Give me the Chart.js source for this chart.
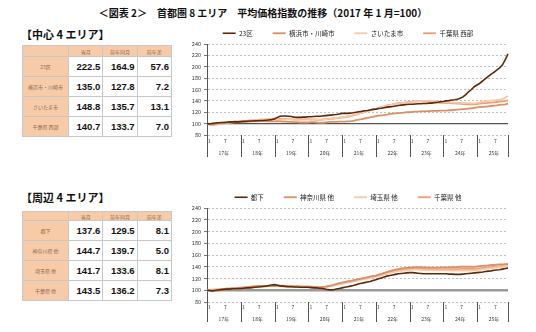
<!DOCTYPE html>
<html>
<head>
<meta charset="utf-8">
<script src="https://cdn.jsdelivr.net/npm/chart.js@4.4.1/dist/chart.umd.min.js"></script>
<style>
  body { margin: 0; width: 536px; height: 332px; background: #fff; position: relative; overflow: hidden;
         font-family: "Noto Sans CJK JP", "Noto Sans", sans-serif; color: #111; }
  .title { position: absolute; left: 0; width: 526px; top: 5px; text-align: center; font-size: 10px; font-weight: bold; }
  .head { position: absolute; left: 21px; font-size: 11px; font-weight: bold; }
  table { position: absolute; left: 22px; width: 150px; border-collapse: collapse; border: 1px solid #9a9a9a; table-layout: fixed; }
  td { border: 1px solid #c8c8c8; padding: 0 2px; }
  td.h, td.n { background: #f8cba8; color: #8a6a58; font-size: 5px; text-align: center; }
  td.v { text-align: right; font-family: "Liberation Sans", Arial, sans-serif; font-weight: bold; font-size: 9.5px; }
  canvas { position: absolute; }
</style>
</head>
<body>
<div class="title">＜図表 2＞　首都圏 8 エリア　平均価格指数の推移（2017 年 1 月=100）</div>

<div class="head" style="top:26px">【中心 4 エリア】</div>
<table id="t1" style="top:45px"></table>
<canvas id="c1" width="345" height="153" style="left:175px;top:10px"></canvas>

<div class="head" style="top:189px">【周辺 4 エリア】</div>
<table id="t2" style="top:211px"></table>
<canvas id="c2" width="345" height="156" style="left:175px;top:174px"></canvas>

<script>
const yearLabels = ['17年', '18年', '19年', '20年', '21年', '22年', '23年', '24年', '25年']
const tableCols = ['当月', '前年同月', '前年差']

// 中心4エリア
const centerNames = ['23区', '横浜市・川崎市', 'さいたま市', '千葉県 西部']
const centerNow = [222.5, 135.0, 148.8, 140.7]
const centerYearAgo = [164.9, 127.8, 135.7, 133.7]
const centerDiff = [57.6, 7.2, 13.1, 7.0]

const ku23 = [
    100, 99.5, 100.5, 101, 101.5, 102, 102, 102.5, 103, 103, 103.5, 103,
    103.5, 104, 104, 104.5, 104.5, 105, 105, 105.5, 105.5, 106, 106.5, 107,
    108, 111, 113, 113.5, 113.5, 113, 112.5, 111.5, 111, 111, 111.5, 111.5,
    112, 112, 112.5, 113, 113, 113.5, 114, 114.5, 115, 115.5, 116, 117,
    118, 118, 118, 118.5, 119, 120, 121, 121.5, 122.5, 123, 124, 125,
    125.5, 126.5, 127, 128, 129, 129.5, 130, 131, 132, 132.5, 133, 133.5,
    134, 134, 134.5, 135, 135, 135.5, 135.5, 136, 136, 137, 137.5, 138.5,
    139, 140, 140.5, 141.5, 142, 143, 144.5, 147, 151, 156, 160, 164.9,
    168, 171, 175, 179, 183, 187, 190, 194, 198, 203, 212, 222.5
]
const yokohama = [
    100, 99, 98.5, 99, 100, 100.5, 101, 101.5, 102, 102, 102.5, 102.5,
    103, 103, 103.5, 103.5, 104, 104, 104, 104.5, 104.5, 104, 104, 104,
    104, 104.5, 104, 103.5, 103.5, 103, 103, 102.5, 102.5, 102, 102, 102,
    102, 102.5, 102.5, 102, 101.5, 101.5, 102, 102.5, 103, 103, 103, 103.5,
    103.5, 103.5, 104, 104, 105, 106, 107, 108, 109, 110, 111, 112,
    113, 114, 114.5, 115, 116, 117, 117.5, 118, 118.5, 119, 119.5, 120,
    120, 120.5, 121, 121, 121.5, 121.5, 122, 122, 122.5, 122.5, 122.5, 123,
    123, 123, 123.5, 123.5, 124, 124.5, 125, 125.5, 126, 126.5, 127, 127.8,
    128.5, 129, 129.5, 130, 130.5, 131, 131.5, 132, 133, 133.5, 134, 135
]
const saitamaCity = [
    100, 98, 97, 98, 99.5, 100.5, 101, 101.5, 102, 102.5, 103, 103.5,
    104, 104, 104.5, 105, 105.5, 105.5, 106, 106.5, 107, 107.5, 108, 108,
    108, 107.5, 107, 107, 107.5, 108, 108, 107.5, 107.5, 108, 108.5, 108.5,
    108.5, 108, 108, 107.5, 107, 107.5, 108, 108.5, 109, 109.5, 110, 111,
    111.5, 112, 113, 114, 115, 116, 117.5, 119, 120.5, 122, 123.5, 124.5,
    125.5, 127, 128.5, 130, 131.5, 132.5, 133.5, 134.5, 135.5, 136, 136.5, 137,
    137.5, 138, 138.5, 139, 139.5, 140, 140, 140.5, 140, 139.5, 139, 138.5,
    138, 137.5, 137.5, 137, 137, 136.5, 136.5, 136, 136, 136, 135.5, 135.7,
    136.5, 137.5, 138.5, 139.5, 140, 140.5, 141, 141.5, 142, 143, 145.5, 148.8
]
const chibaWest = [
    100, 99.5, 99, 100, 101, 101.5, 102, 102, 102.5, 103, 103, 103.5,
    104, 104.5, 105, 105.5, 105.5, 106, 106.5, 107, 107, 107.5, 108, 108.5,
    109, 109, 108.5, 108, 108, 108, 107.5, 107, 107, 107, 107.5, 107.5,
    107.5, 107, 107, 106.5, 106.5, 107, 107.5, 108, 108.5, 109, 109.5, 110,
    110.5, 111, 112, 113, 114.5, 116, 117.5, 119, 120.5, 122, 123.5, 125,
    126, 127.5, 129, 130.5, 132, 133, 134, 135, 136, 136.5, 137, 137.5,
    138, 138.5, 139, 139, 139, 139.5, 139, 138.5, 138, 137.5, 137, 136.5,
    136.5, 136, 136, 135.5, 135.5, 135, 135, 134.5, 134.5, 134, 134, 133.7,
    134.5, 135, 135.5, 136, 136.5, 137, 137.5, 138, 138.5, 139, 140, 140.7
]

// 周辺4エリア
const outerNames = ['都下', '神奈川県 他', '埼玉県 他', '千葉県 他']
const outerNow = [137.6, 144.7, 141.7, 143.5]
const outerYearAgo = [129.5, 139.7, 133.6, 136.2]
const outerDiff = [8.1, 5.0, 8.1, 7.3]

const toka = [
    100, 99.5, 99, 100, 100.5, 101, 101.5, 102, 102, 102.5, 102.5, 103,
    103, 103.5, 104, 104, 104.5, 105, 105.5, 106, 106.5, 107, 108, 109,
    109.5, 108.5, 107.5, 107, 106.5, 106, 106, 105.5, 105.5, 105, 105, 105,
    105, 104.5, 104, 104, 103.5, 103, 102, 101, 100.5, 101, 102, 103,
    104, 105, 106, 107, 108, 109.5, 111, 112, 113, 114, 115, 116.5,
    118, 119.5, 121, 122.5, 124, 125, 126, 127, 128, 128.5, 129, 129.5,
    130, 130, 129.5, 129, 128.5, 128, 128, 128, 128, 128, 128, 128,
    128, 128, 127.5, 127.5, 127, 127, 127, 127.5, 128, 128.5, 129, 129.5,
    130, 130.5, 131, 132, 132.5, 133, 134, 134.5, 135, 136, 137, 137.6
]
const kanagawa = [
    100, 99, 98.5, 99, 100, 101, 101.5, 102, 102.5, 103, 103, 103.5,
    104, 104.5, 105, 105.5, 106, 106.5, 107, 107.5, 107.5, 107, 107, 107,
    107, 107.5, 108, 108, 107.5, 107, 107, 106.5, 106.5, 106, 106, 106,
    106, 106, 105.5, 105, 105, 105.5, 106, 107, 108, 109, 110.5, 112,
    113, 114, 115, 116, 117, 118, 119, 120, 121, 122, 123, 124,
    125, 126.5, 128, 129.5, 131, 132.5, 134, 135, 136, 137, 137.5, 138,
    138.5, 139, 139.5, 139.5, 139.5, 139, 139, 138.5, 138.5, 138.5, 138.5, 139,
    139, 139, 139, 139.5, 139.5, 139.5, 140, 140, 140, 140, 140, 139.7,
    140.5, 141, 141.5, 142, 142.5, 143, 143, 143.5, 144, 144, 144.5, 144.7
]
const saitamaPref = [
    100, 99.5, 100, 100.5, 101, 101.5, 102, 102, 102.5, 103, 103, 103.5,
    104, 104, 104.5, 105, 105, 105.5, 106, 106, 106.5, 106.5, 107, 107,
    107, 107, 106.5, 106.5, 106, 106, 106, 105.5, 105.5, 105.5, 105, 105,
    105, 105, 104.5, 104.5, 104, 104.5, 105, 106, 107, 108, 109, 110,
    111, 112, 113, 114, 115, 116, 117, 118, 119, 120, 121, 122,
    123, 124, 125.5, 127, 128, 129.5, 130.5, 131.5, 132.5, 133, 133.5, 134,
    134.5, 135, 135, 135, 134.5, 134.5, 134, 134, 134, 134, 134, 134,
    134, 134, 134, 133.5, 133.5, 133.5, 133.5, 133.5, 133.5, 133.5, 133.5, 133.6,
    134.5, 135, 135.5, 136.5, 137, 137.5, 138, 139, 139.5, 140, 141, 141.7
]
const chibaPref = [
    100, 100.5, 101, 101.5, 102, 102, 102.5, 103, 103, 103.5, 104, 104,
    104.5, 105, 105, 105.5, 106, 106.5, 106.5, 107, 107, 107.5, 107.5, 108,
    108, 108, 107.5, 107.5, 107, 107, 107, 106.5, 106.5, 106.5, 106, 106,
    106, 105.5, 105.5, 105, 105, 105, 105.5, 106.5, 107.5, 108.5, 110, 111.5,
    112.5, 113.5, 114.5, 115.5, 116.5, 117.5, 118.5, 119.5, 120.5, 121.5, 122.5, 123.5,
    124.5, 126, 127.5, 129, 130.5, 131.5, 132.5, 133.5, 134.5, 135, 135.5, 136,
    136.5, 137, 137, 137, 136.5, 136.5, 136, 136, 136, 136, 136, 136,
    136, 136, 136, 136, 136, 136, 136.5, 136.5, 136.5, 136.5, 136.5, 136.2,
    137, 137.5, 138, 138.5, 139, 139.5, 140, 140.5, 141, 142, 142.5, 143.5
]

const lineColors = ['#5c2a0a', '#d9906a', '#f6c7a8', '#eba070']
const labels = yearLabels.flatMap(y => Array.from({length: 12}, (_, m) => y + (m + 1)))

// year separators under the plot, placed with the x scale
const yearSeparators = {
    id: 'yearSeparators',
    afterDraw(chart, args, opts){
        const {ctx, chartArea, scales} = chart
        ctx.save()
        ctx.strokeStyle = '#555'
        ctx.lineWidth = 1
        labels.forEach((l, i) => {
            if (i % 12 !== 0 && i !== labels.length - 1) return
            const x = Math.round(scales.x.getPixelForValue(i)) + 0.5
            ctx.beginPath()
            ctx.moveTo(x, chartArea.bottom)
            ctx.lineTo(x, chartArea.bottom + opts.length)
            ctx.stroke()
        })
        ctx.restore()
    }
}

function fillTable(id, names, now, ago, diff, headH, rowH){
    const t = document.getElementById(id)
    let html = `<tr style="height:${headH}px"><td class="h" style="width:41px"></td>` +
        tableCols.map(c => `<td class="h">${c}</td>`).join('') + '</tr>'
    names.forEach((n, i) => {
        html += `<tr style="height:${rowH}px"><td class="n">${n}</td>` +
            `<td class="v">${now[i].toFixed(1)}</td><td class="v">${ago[i].toFixed(1)}</td>` +
            `<td class="v">${diff[i].toFixed(1)}</td></tr>`
    })
    t.innerHTML = html
}

function renderChart(canvasId, names, series, baseColor, baseWidth, monthPad, yearPad, sepLength){
    const ctx = document.getElementById(canvasId).getContext('2d')
    return new Chart(ctx, {
        type: 'line',
        data: {
            labels,
            datasets: series.map((d, i) => ({
                label: names[i],
                data: d,
                borderColor: lineColors[i],
                backgroundColor: lineColors[i],
                borderWidth: i === 0 ? 1.6 : 1.8,
                pointRadius: 0,
                tension: 0
            }))
        },
        options: {
            responsive: false,
            animation: false,
            layout: {padding: {left: 13, right: 12, bottom: 4}},
            scales: {
                x: {
                    offset: false,
                    border: {display: false},
                    grid: {display: false, drawTicks: false},
                    ticks: {
                        autoSkip: false, maxRotation: 0, padding: monthPad, align: 'start',
                        font: {size: 5, family: 'Noto Sans CJK JP'}, color: '#333',
                        callback: (v, i) => i % 12 === 0 ? ' 1' : (i % 12 === 6 ? '7' : '')
                    }
                },
                x2: {
                    type: 'category',
                    position: 'bottom',
                    labels,
                    offset: false,
                    border: {display: false},
                    grid: {display: false, drawTicks: false},
                    ticks: {
                        autoSkip: false, maxRotation: 0, padding: yearPad,
                        font: {size: 5, family: 'Noto Sans CJK JP'}, color: '#333',
                        callback: (v, i) => i % 12 === 6 ? yearLabels[Math.floor(i / 12)] : ''
                    }
                },
                y: {
                    min: 80, max: 240,
                    border: {display: true, color: '#555', width: 1, dash: [2, 2]},
                    grid: {color: '#b0b0b0', lineWidth: 0.8, tickLength: 3, tickColor: '#555', tickBorderDash: []},
                    ticks: {stepSize: 20, padding: 3, font: {size: 5.5, family: 'Noto Sans CJK JP'}, color: '#333'},
                    afterFit: s => { s.width = 19 }
                },
                yBase: {
                    min: 80, max: 240,
                    position: 'right',
                    border: {display: false},
                    grid: {
                        drawTicks: false,
                        color: c => c.tick.value === 100 ? baseColor : 'rgba(0,0,0,0)',
                        lineWidth: baseWidth
                    },
                    ticks: {display: false, stepSize: 20}
                }
            },
            plugins: {
                legend: {
                    position: 'top',
                    maxHeight: 34,
                    labels: {
                        usePointStyle: true, pointStyle: 'line', pointStyleWidth: 13,
                        padding: 20, boxHeight: 6,
                        font: {size: 6.5, family: 'Noto Sans CJK JP'}, color: '#222'
                    }
                },
                yearSeparators: {length: sepLength},
                tooltip: {enabled: false}
            }
        },
        plugins: [yearSeparators]
    })
}

document.addEventListener('DOMContentLoaded', () => {
    fillTable('t1', centerNames, centerNow, centerYearAgo, centerDiff, 11, 20)
    fillTable('t2', outerNames, outerNow, outerYearAgo, outerDiff, 9, 20)
    renderChart('c1', centerNames, [ku23, yokohama, saitamaCity, chibaWest], '#555', 1.3, 3, 3, 22)
    renderChart('c2', outerNames, [toka, kanagawa, saitamaPref, chibaPref], '#9a9a9a', 2.5, 2, 4, 20)
})
</script>
</body>
</html>
